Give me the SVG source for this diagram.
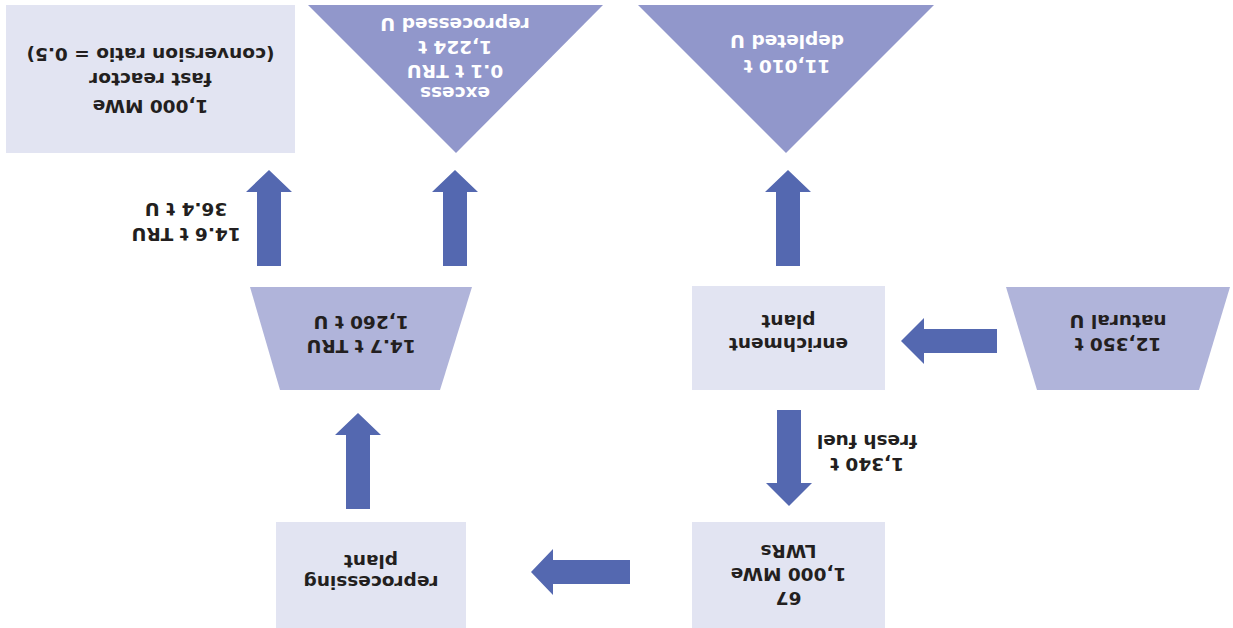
<svg xmlns="http://www.w3.org/2000/svg" width="1233" height="628" viewBox="0 0 1233 628">
<style>
.box{fill:#e2e4f2}
.src{fill:#b0b4da}
.out{fill:#9197cb}
.arr{fill:#5468b0}
text{font-family:"DejaVu Sans",Verdana,sans-serif;font-weight:bold;font-size:18.5px;text-anchor:middle;fill:#231f20}
.w{fill:#ffffff}
</style>
<rect width="1233" height="628" fill="#ffffff"/>
<g transform="rotate(180 616.5 314)">
<g id="lwrs">
<rect class="box" x="348" y="0" width="193" height="106"/>
<text x="444.5" y="36">67</text>
<text x="444.5" y="60">1,000 MWe</text>
<text x="444.5" y="83">LWRs</text>
</g>
<g id="reprocessing">
<rect class="box" x="767" y="0" width="190" height="106"/>
<text x="862" y="52">reprocessing</text>
<text x="862" y="73">plant</text>
</g>
<g id="enrichment">
<rect class="box" x="348" y="238" width="193" height="104"/>
<text x="444.5" y="290">enrichment</text>
<text x="444.5" y="313">plant</text>
</g>
<g id="natural-u">
<polygon class="src" points="34,238 196,238 227,341 3,341"/>
<text x="115" y="290">12,350 t</text>
<text x="115" y="313">natural U</text>
</g>
<g id="separated">
<polygon class="src" points="793,238 953,238 983,341 761,341"/>
<text x="872" y="288">14.7 t TRU</text>
<text x="872" y="312">1,260 t U</text>
</g>
<g id="fast-reactor">
<rect class="box" x="938" y="475" width="289" height="148"/>
<text x="1082.5" y="528">1,000 MWe</text>
<text x="1082.5" y="555">fast reactor</text>
<text x="1082.5" y="580">(conversion ratio = 0.5)</text>
</g>
<g id="excess">
<polygon class="out" points="630,623 925,623 777,475"/>
<text class="w" x="778" y="541">excess</text>
<text class="w" x="778" y="563">0.1 t TRU</text>
<text class="w" x="778" y="587">1,224 t</text>
<text class="w" x="778" y="610">reprocessed U</text>
</g>
<g id="depleted">
<polygon class="out" points="299,623 595,623 447,475"/>
<text class="w" x="446" y="568">11,010 t</text>
<text class="w" x="446" y="593">depleted U</text>
</g>
<g id="connectors">
<polygon class="arr" points="236,275 309,275 309,264 332,287 309,310 309,299 236,299"/>
<polygon class="arr" points="432,218 456,218 456,145 467,145 444,122 421,145 432,145"/>
<polygon class="arr" points="603,44 680,44 680,33 702,56 680,79 680,68 603,68"/>
<polygon class="arr" points="863,119 887,119 887,193 898,193 875,215 852,193 863,193"/>
<polygon class="arr" points="952,362 976,362 976,436 987,436 964,458 941,436 952,436"/>
<polygon class="arr" points="766,362 790,362 790,436 801,436 778,458 755,436 766,436"/>
<polygon class="arr" points="433,362 457,362 457,436 468,436 445,458 422,436 433,436"/>
<text x="366" y="170">1,340 t</text>
<text x="366" y="193">fresh fuel</text>
<text x="1047" y="400">14.6 t TRU</text>
<text x="1047" y="425">36.4 t U</text>
</g>
</g>
</svg>
